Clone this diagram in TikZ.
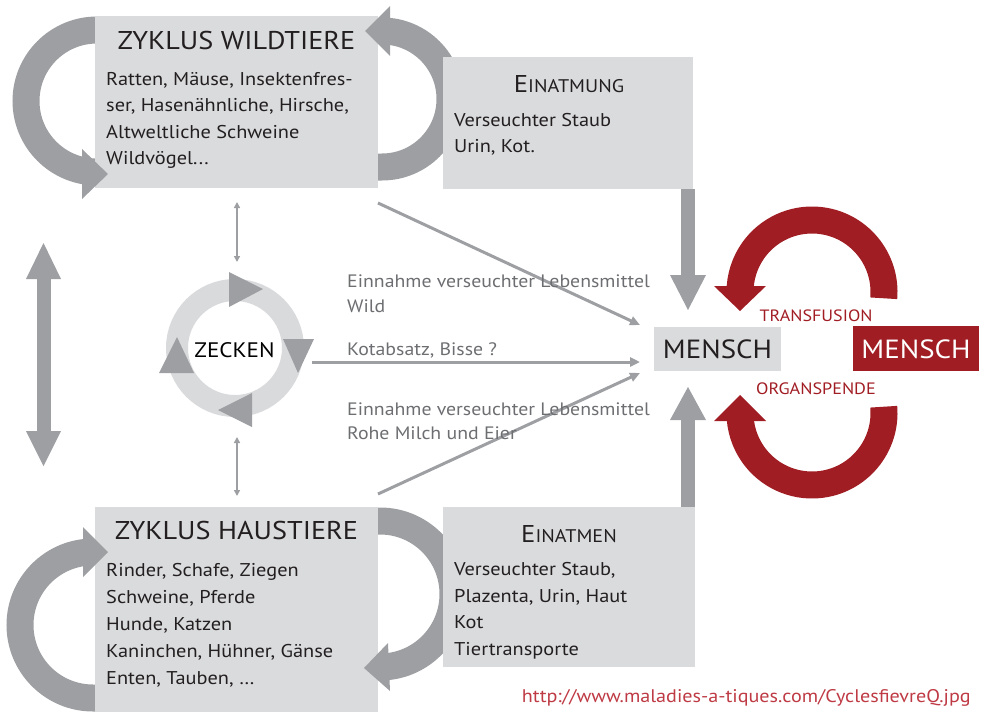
\documentclass[tikz,border=0pt]{standalone}
\usepackage{fontspec}
\setmainfont[FakeStretch=1.1]{PT Sans}
\usetikzlibrary{arrows.meta}
\definecolor{boxgray}{HTML}{DADBDD}
\definecolor{arrgray}{HTML}{9D9FA2}
\definecolor{ringgray}{HTML}{D9DADC}
\definecolor{darkred}{HTML}{A11D24}
\definecolor{urlred}{HTML}{BE3A44}
\definecolor{txt}{HTML}{231F20}
\definecolor{lbl}{HTML}{6D6E71}
\newcommand\fsz[1]{\fontsize{#1}{#1}\selectfont}
\begin{document}
\begin{tikzpicture}[x=1pt,y=-1pt,
  band/.style={draw=arrgray, line width=27pt},
  redband/.style={draw=darkred, line width=27pt},
  headg/.style={fill=arrgray},
  headr/.style={fill=darkred},
  box/.style={fill=boxgray, draw=none, inner sep=0pt, outer sep=0pt, anchor=north west},
  body/.style={anchor=base west, inner sep=0pt, text=txt, font=\fsz{18.5}},
  title/.style={anchor=base, inner sep=0pt, text=txt, font=\fsz{25.7}},
  lab/.style={anchor=base west, inner sep=0pt, text=lbl, font=\fsz{18}},
  thinarr/.style={draw=arrgray, line width=3pt, -{Triangle[length=10pt,width=9pt]}},
  smallarr/.style={draw=arrgray, line width=2.5pt, {Triangle[length=6pt,width=6pt]}-{Triangle[length=6pt,width=6pt]}},
  thick/.style={draw=arrgray, line width=14pt}
]
\useasboundingbox (0,0) rectangle (986,712);

% ---- gray cycle bands (behind boxes)
\draw[band] (97,30) arc[start angle=-90, end angle=-270, radius=71];
\draw[band] (370,167) -- (382,167) arc[start angle=90, end angle=-90, radius=68];
\draw[band] (100,698) -- (93,698) arc[start angle=90, end angle=270, radius=73];
\draw[band] (370,521) -- (380,521) arc[start angle=-90, end angle=90, radius=73];

% ---- boxes
\node[box, minimum width=283pt, minimum height=172pt] (wild) at (95,16) {};
\node[box, minimum width=250pt, minimum height=132pt] (einatmung) at (443,57) {};
\node[box, minimum width=283pt, minimum height=205pt] (haus) at (95,507) {};
\node[box, minimum width=252pt, minimum height=160pt] (einatmen) at (443,507) {};
\node[box, minimum width=127pt, minimum height=44pt] (mensch) at (654,327) {};
\node[box, fill=darkred, minimum width=126pt, minimum height=45pt] (menschR) at (853,326) {};

% ---- heads of gray cycles
\fill[headg] (82,149) -- (82,199) -- (108,174) -- cycle;
\fill[headg] (390,6) -- (390,56) -- (365,31) -- cycle;
\fill[headg] (83,527) -- (83,577) -- (108,552) -- cycle;
\fill[headg] (388,643) -- (390,691) -- (364,668) -- cycle;

% ---- box texts
\node[title] (wildT) at (236.5,49.5) {ZYKLUS WILDTIERE};
\node[body] (w1) at (106,85) {Ratten, Mäuse, Insektenfres-};
\node[body] (w2) at (106,111.5) {ser, Hasenähnliche, Hirsche,};
\node[body] (w3) at (106,138) {Altweltliche Schweine};
\node[body] (w4) at (106,164.5) {Wildvögel...};

\node[title] (einatmungT) at (569,92) {{\fsz{24.3}E}{\fsz{18.3}INATMUNG}};
\node[body] (e1) at (454,126) {Verseuchter Staub};
\node[body] (e2) at (454,152) {Urin, Kot.};

\node[title] (hausT) at (236.5,539) {ZYKLUS HAUSTIERE};
\node[body] (h1) at (106,576) {Rinder, Schafe, Ziegen};
\node[body] (h2) at (106,603) {Schweine, Pferde};
\node[body] (h3) at (106,630) {Hunde, Katzen};
\node[body] (h4) at (106,657) {Kaninchen, Hühner, Gänse};
\node[body] (h5) at (106,684) {Enten, Tauben, …};

\node[title] (einatmenT) at (569,542) {{\fsz{24.3}E}{\fsz{18.3}INATMEN}};
\node[body] (f1) at (454,575) {Verseuchter Staub,};
\node[body] (f2) at (454,602) {Plazenta, Urin, Haut};
\node[body] (f3) at (454,628.5) {Kot};
\node[body] (f4) at (454,655) {Tiertransporte};

\node[title, font=\fsz{26.3}] (menschT) at (mensch.center |- 0,358) {MENSCH};
\node[title, font=\fsz{26.3}, text=white] (menschRT) at (menschR.center |- 0,358) {MENSCH};

% ---- thick gray arrows to MENSCH
\coordinate (ea) at (688,189);
\coordinate (eb) at (688,276);
\draw[thick] (ea) -- (eb);
\fill[headg] (670,275) -- (706,275) -- (688,310) -- cycle;
\coordinate (fa) at (688,507);
\coordinate (fb) at (688,419);
\draw[thick] (fa) -- (fb);
\fill[headg] (670,420) -- (706,420) -- (688,387) -- cycle;

% ---- left big double arrow
\coordinate (la) at (44,277);
\coordinate (lb) at (44,433);
\draw[thick] (la) -- (lb);
\fill[headg] (26,279) -- (61,279) -- (43.5,243) -- cycle;
\fill[headg] (26,431) -- (61,431) -- (43.5,466) -- cycle;

% ---- red cycles
\draw[redband] (812,292) ++(5:72) arc[start angle=5, end angle=-180, radius=72];
\fill[headr] (714,286) -- (766,286) -- (740,311) -- cycle;
\draw[redband] (812,413) ++(-5:72) arc[start angle=-5, end angle=180, radius=72];
\fill[headr] (714,421) -- (766,421) -- (740,395) -- cycle;
\node[anchor=base, inner sep=0pt, text=darkred, font=\fsz{16.4}] (transf) at (816,321) {TRANSFUSION};
\node[anchor=base, inner sep=0pt, text=darkred, font=\fsz{16.5}] (organ) at (816,394) {ORGANSPENDE};

% ---- ZECKEN ring
\draw[ringgray, line width=22pt] (235,348) circle[radius=58];
\fill[headg] (229,272) -- (229,307) -- (263,289) -- cycle;
\fill[headg] (283,339) -- (314,339) -- (298,373) -- cycle;
\fill[headg] (252,393) -- (252,427) -- (218,410) -- cycle;
\fill[headg] (159,373) -- (194,373) -- (177,337) -- cycle;
\node[anchor=base, inner sep=0pt, text=black, font=\fsz{21}] (zecken) at (234.5,357) {ZECKEN};

% ---- small double arrows
\coordinate (sa1) at (237,202);
\coordinate (sa2) at (237,262);
\draw[smallarr] (sa1) -- (sa2);
\coordinate (sb1) at (237,437);
\coordinate (sb2) at (237,496);
\draw[smallarr] (sb1) -- (sb2);

% ---- thin arrows to MENSCH
\coordinate (t1a) at (378,203);
\coordinate (t1b) at (640,325);
\coordinate (t2a) at (312,362);
\coordinate (t2b) at (640,362);
\coordinate (t3a) at (378,494);
\coordinate (t3b) at (640,373);
\draw[thinarr] (t1a) -- (t1b);
\draw[thinarr] (t2a) -- (t2b);
\draw[thinarr] (t3a) -- (t3b);

\node[lab] (l1) at (347,287) {Einnahme verseuchter Lebensmittel};
\node[lab] (l2) at (347,312) {Wild};
\node[lab] (l3) at (347,355) {Kotabsatz, Bisse ?};
\node[lab] (l4) at (347,415) {Einnahme verseuchter Lebensmittel};
\node[lab] (l5) at (347,439) {Rohe Milch und Eier};

% ---- URL
\node[anchor=base east, inner sep=0pt, text=urlred, font=\fsz{18.3}] (url) at (971,702) {http://www.maladies-a-tiques.com/CyclesfievreQ.jpg};
\end{tikzpicture}
\end{document}
